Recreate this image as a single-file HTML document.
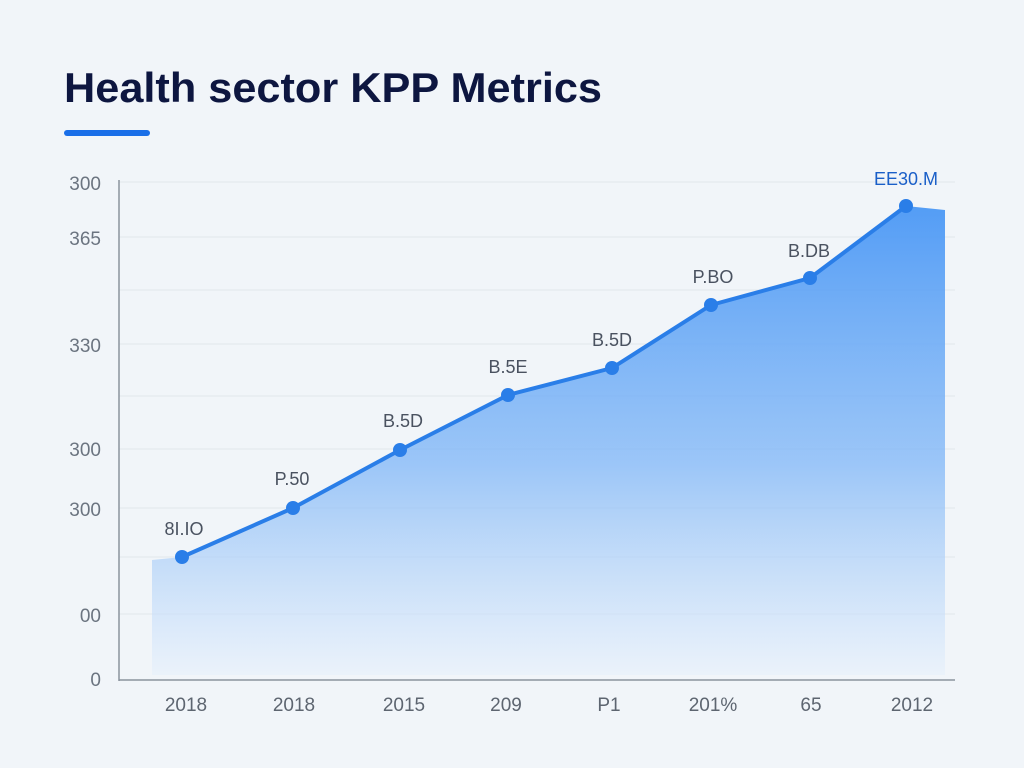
<!DOCTYPE html>
<html><head><meta charset="utf-8"><style>
body{margin:0;background:#f1f5f9;}
svg{display:block}
</style></head><body>
<svg width="1024" height="768" viewBox="0 0 1024 768" xmlns="http://www.w3.org/2000/svg" font-family="Liberation Sans, sans-serif">
<defs>
<linearGradient id="g" x1="0" y1="0" x2="0" y2="1">
<stop offset="0" stop-color="#4b98f5" stop-opacity="0.95"/>
<stop offset="0.55" stop-color="#7fb6f7" stop-opacity="0.75"/>
<stop offset="1" stop-color="#e6f0fb" stop-opacity="0.6"/>
</linearGradient>
</defs>
<rect width="1024" height="768" fill="#f1f5f9"/>
<text x="64" y="102" font-size="42" font-weight="bold" fill="#0d1640" textLength="538" lengthAdjust="spacingAndGlyphs">Health sector KPP Metrics</text>
<rect x="64" y="130" width="86" height="6" rx="3" fill="#1a6fe8"/>
<g stroke="#e1e6ec" stroke-width="1">
<line x1="119" y1="182" x2="955" y2="182"/>
<line x1="119" y1="237" x2="955" y2="237"/>
<line x1="119" y1="290" x2="955" y2="290"/>
<line x1="119" y1="344" x2="955" y2="344"/>
<line x1="119" y1="396" x2="955" y2="396"/>
<line x1="119" y1="449" x2="955" y2="449"/>
<line x1="119" y1="508" x2="955" y2="508"/>
<line x1="119" y1="557" x2="955" y2="557"/>
<line x1="119" y1="614" x2="955" y2="614"/>
</g>
<g font-size="19" fill="#6b7480" text-anchor="end">
<text x="101" y="190">300</text>
<text x="101" y="245">365</text>
<text x="101" y="352">330</text>
<text x="101" y="456">300</text>
<text x="101" y="516">300</text>
<text x="101" y="622">00</text>
<text x="101" y="686">0</text>
</g>
<path d="M152 560 L182 557 L293 508 L400 450 L508 395 L612 368 L711 305 L810 278 L906 206 L945 210 L945 675 L152 675 Z" fill="url(#g)"/>
<line x1="119" y1="180" x2="119" y2="681" stroke="#8a939e" stroke-width="1.5"/>
<line x1="119" y1="680" x2="955" y2="680" stroke="#8a939e" stroke-width="1.5"/>
<polyline points="182,557 293,508 400,450 508,395 612,368 711,305 810,278 906,206" fill="none" stroke="#2a7ee8" stroke-width="4" stroke-linejoin="round"/>
<g fill="#2a7ee8">
<circle cx="182" cy="557" r="7"/><circle cx="293" cy="508" r="7"/><circle cx="400" cy="450" r="7"/><circle cx="508" cy="395" r="7"/><circle cx="612" cy="368" r="7"/><circle cx="711" cy="305" r="7"/><circle cx="810" cy="278" r="7"/><circle cx="906" cy="206" r="7"/>
</g>
<g font-size="18" fill="#4a5260" text-anchor="middle">
<text x="184" y="535">8I.IO</text>
<text x="292" y="485">P.50</text>
<text x="403" y="427">B.5D</text>
<text x="508" y="373">B.5E</text>
<text x="612" y="346">B.5D</text>
<text x="713" y="283">P.BO</text>
<text x="809" y="257">B.DB</text>
<text x="906" y="185" fill="#1a5fc8">EE30.M</text>
</g>
<g font-size="19" fill="#5d6570" text-anchor="middle">
<text x="186" y="711">2018</text>
<text x="294" y="711">2018</text>
<text x="404" y="711">2015</text>
<text x="506" y="711">209</text>
<text x="609" y="711">P1</text>
<text x="713" y="711">201%</text>
<text x="811" y="711">65</text>
<text x="912" y="711">2012</text>
</g>
</svg>
</body></html>
